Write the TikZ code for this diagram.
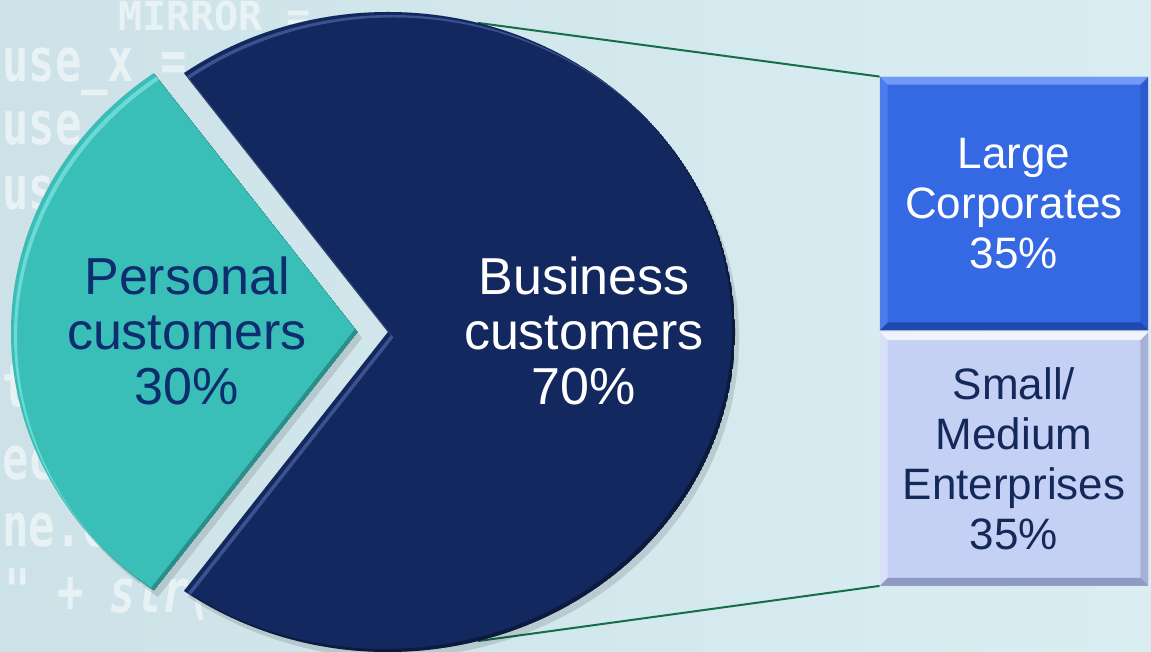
\documentclass[tikz,border=0pt]{standalone}
\usepackage{graphicx}
\usepackage{fontspec}
\setmainfont{Liberation Sans}
\newfontfamily\codefont{DejaVu Sans Mono Bold}
\definecolor{bgl}{RGB}{204,226,232}
\definecolor{bgr}{RGB}{218,238,242}
\definecolor{navy}{RGB}{18,40,95}
\definecolor{navyhi}{RGB}{110,135,200}
\definecolor{teal}{RGB}{58,190,184}
\definecolor{tealhi}{RGB}{150,240,235}
\definecolor{ptext}{RGB}{14,45,110}
\definecolor{lcblue}{RGB}{53,105,228}
\definecolor{lchi}{RGB}{120,160,250}
\definecolor{lcdk}{RGB}{30,70,170}
\definecolor{smeblue}{RGB}{196,208,244}
\definecolor{smedk}{RGB}{120,132,172}
\definecolor{smetext}{RGB}{20,40,90}
\definecolor{conngreen}{RGB}{22,110,70}
\newcommand\codebox[1]{\scalebox{0.73}[1]{#1}}
\newcommand\pieN[2]{(#1,#2) -- +(-126:347 and 320) arc[start angle=-126,end angle=126,x radius=347,y radius=320] -- cycle}
\newcommand\pieP[2]{(#1,#2) -- +(126:347 and 320) arc[start angle=126,end angle=234,x radius=347,y radius=320] -- cycle}
\newcommand\boxbevel[5]{%
  \fill[#2] (#1.north west) -- (#1.north east) -- ([xshift=-4pt,yshift=-4pt]#1.north east) -- ([xshift=4pt,yshift=-4pt]#1.north west) -- cycle;
  \fill[#3] (#1.south west) -- (#1.south east) -- ([xshift=-4pt,yshift=4pt]#1.south east) -- ([xshift=4pt,yshift=4pt]#1.south west) -- cycle;
  \fill[#4] (#1.north west) -- (#1.south west) -- ([xshift=4pt,yshift=4pt]#1.south west) -- ([xshift=4pt,yshift=-4pt]#1.north west) -- cycle;
  \fill[#5] (#1.north east) -- (#1.south east) -- ([xshift=-4pt,yshift=4pt]#1.south east) -- ([xshift=-4pt,yshift=-4pt]#1.north east) -- cycle;
}
\tikzset{
  codetxt/.style={text=white, opacity=0.55, inner sep=0, anchor=base west, font=\codefont\fontsize{30}{30}\selectfont},
  barbox/.style={rectangle, minimum width=134pt, minimum height=126.5pt, inner sep=0, align=center, font=\fontsize{22}{25}\selectfont},
  pielabel/.style={align=center, inner sep=0, font=\fontsize{26}{27.5}\selectfont},
  conn/.style={draw=conngreen, line width=1pt},
}
\begin{document}
\begin{tikzpicture}[x=0.5pt,y=0.5pt]
\useasboundingbox (0,0) rectangle (1151,652);
% background
\shade[left color=bgl, right color=bgr] (0,0) rectangle (1151,652);
% faint code in the background
\node[codetxt, font=\codefont\fontsize{20}{20}\selectfont] (c1) at (118,621) {MIRROR =};
\node[codetxt] (c2) at (2,570) {\codebox{use\_x =}};
\node[codetxt] (c3) at (2,507) {\codebox{use}};
\node[codetxt] (c4) at (2,442) {\codebox{use}};
\node[codetxt] (c5) at (2,244) {\codebox{t}};
\node[codetxt] (c6) at (2,172) {\codebox{ec}};
\node[codetxt] (c7) at (2,105) {\codebox{ne.c}};
\node[codetxt] (c8) at (4,39) {\codebox{" + \textit{str(}}};
% bar of pie
\node[barbox, fill=lcblue, text=white] (lc) at (1014,448.5) {Large\\Corporates\\35\%};
\node[barbox, fill=smeblue, text=smetext] (sme) at (1014,193) {Small/\\Medium\\Enterprises\\35\%};
\boxbevel{lc}{lchi, opacity=0.9}{lcdk, opacity=0.9}{lchi, opacity=0.35}{lcdk, opacity=0.4}
\boxbevel{sme}{white, opacity=0.75}{smedk, opacity=0.7}{white, opacity=0.35}{smedk, opacity=0.4}
% connectors
\coordinate (ptop) at (477.8,629.1);
\coordinate (pbot) at (477.8,10.9);
\draw[conn] (ptop) -- (lc.north west);
\draw[conn] (pbot) -- (sme.south west);
% shadows
\fill[black, opacity=0.12] \pieN{392}{314};
\fill[black, opacity=0.12] \pieP{362}{314};
% business slice
\begin{scope}
  \clip \pieN{388}{320};
  \fill[navy] \pieN{388}{320};
  \fill[navyhi, opacity=0.45, even odd rule] \pieN{391}{317} \pieN{393.5}{314.5};
  \fill[black, opacity=0.35, even odd rule] \pieN{388}{320} \pieN{385}{323};
\end{scope}
% personal slice
\begin{scope}
  \clip \pieP{358}{320};
  \fill[teal] \pieP{358}{320};
  \fill[tealhi, opacity=0.55, even odd rule] \pieP{361}{317} \pieP{364}{314};
  \fill[black, opacity=0.25, even odd rule] \pieP{358}{320} \pieP{355}{323};
\end{scope}
% labels
\node[pielabel, text=ptext] (pl) at (187,321) {Personal\\customers\\30\%};
\node[pielabel, text=white] (bl) at (584,321) {Business\\customers\\70\%};
\end{tikzpicture}
\end{document}
